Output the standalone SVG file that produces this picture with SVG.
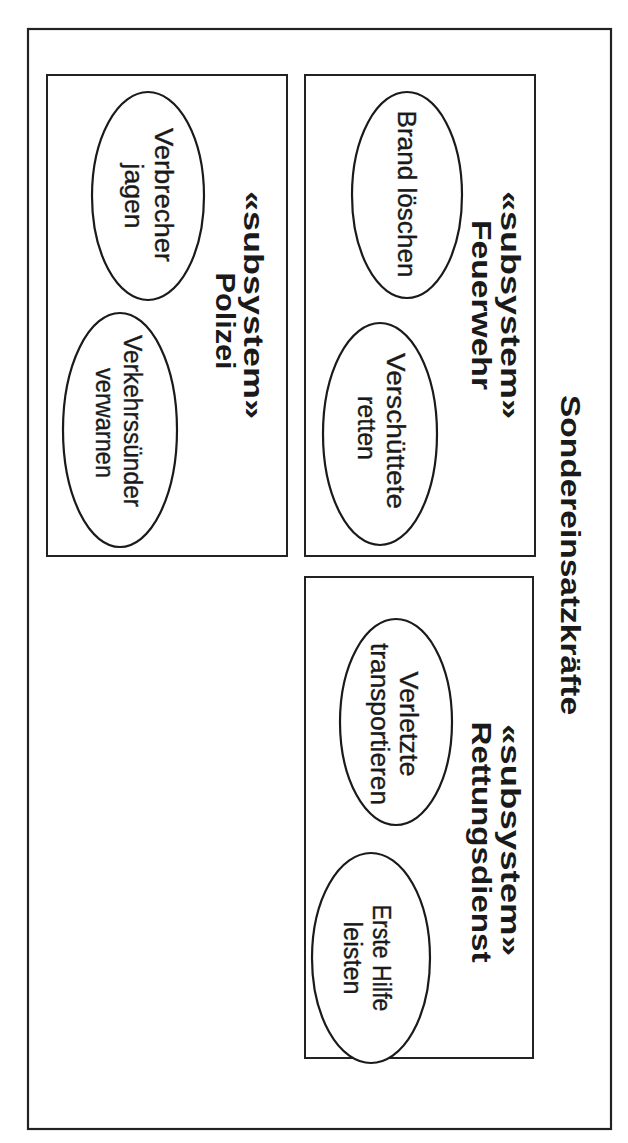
<svg xmlns="http://www.w3.org/2000/svg" width="628" height="1143" viewBox="0 0 628 1143">
<style>
.frame{fill:none;stroke:#222;stroke-width:2.2}
.box{fill:none;stroke:#222;stroke-width:2}
.uc{fill:#fff;stroke:#1a1a1a;stroke-width:2.2}
.t{font-family:"Liberation Sans",Arial,Helvetica,sans-serif;font-size:25px;fill:#1a1a1a;stroke:#1a1a1a;stroke-width:0.35;text-anchor:middle}
.h{font-family:"Liberation Sans",Arial,Helvetica,sans-serif;font-size:28px;font-weight:bold;fill:#1a1a1a;text-anchor:middle}
</style>
<rect width="628" height="1143" fill="#fff"/>
<g id="system">
<rect class="frame" x="28" y="29" width="583" height="1100"/>
<text class="h" transform="translate(561,555) rotate(90)" textLength="320" lengthAdjust="spacingAndGlyphs">Sondereinsatzkräfte</text>
</g>
<g id="feuerwehr">
<rect class="box" x="305" y="75" width="230" height="481"/>
<text class="h" transform="translate(501,305) rotate(90)" textLength="228" lengthAdjust="spacingAndGlyphs">«subsystem»</text>
<text class="h" transform="translate(472,305) rotate(90)" textLength="170" lengthAdjust="spacingAndGlyphs">Feuerwehr</text>
</g>
<g id="polizei">
<rect class="box" x="47" y="75" width="240" height="481"/>
<text class="h" transform="translate(244,305) rotate(90)" textLength="228" lengthAdjust="spacingAndGlyphs">«subsystem»</text>
<text class="h" transform="translate(216,321) rotate(90)" textLength="97" lengthAdjust="spacingAndGlyphs">Polizei</text>
</g>
<g id="rettungsdienst">
<rect class="box" x="305" y="577" width="228" height="481"/>
<text class="h" transform="translate(501,840) rotate(90)" textLength="232" lengthAdjust="spacingAndGlyphs">«subsystem»</text>
<text class="h" transform="translate(472,842) rotate(90)" textLength="241" lengthAdjust="spacingAndGlyphs">Rettungsdienst</text>
</g>
<g id="uc-brand">
<ellipse class="uc" cx="407" cy="195" rx="55" ry="103"/>
<text class="t" transform="translate(398,194) rotate(90)" textLength="167" lengthAdjust="spacingAndGlyphs">Brand löschen</text>
</g>
<g id="uc-verschuettete">
<ellipse class="uc" cx="380" cy="434" rx="57" ry="111"/>
<text class="t" transform="translate(387,431) rotate(90)" textLength="156" lengthAdjust="spacingAndGlyphs">Verschüttete</text>
<text class="t" transform="translate(358,428) rotate(90)" textLength="64" lengthAdjust="spacingAndGlyphs">retten</text>
</g>
<g id="uc-verbrecher">
<ellipse class="uc" cx="148" cy="196" rx="56" ry="104"/>
<text class="t" transform="translate(155,195) rotate(90)" textLength="134" lengthAdjust="spacingAndGlyphs">Verbrecher</text>
<text class="t" transform="translate(125,196) rotate(90)" textLength="65" lengthAdjust="spacingAndGlyphs">jagen</text>
</g>
<g id="uc-verkehrssuender">
<ellipse class="uc" cx="120" cy="430" rx="57" ry="117"/>
<text class="t" transform="translate(124,421) rotate(90)" textLength="172" lengthAdjust="spacingAndGlyphs">Verkehrssünder</text>
<text class="t" transform="translate(96,423) rotate(90)" textLength="110" lengthAdjust="spacingAndGlyphs">verwarnen</text>
</g>
<g id="uc-verletzte">
<ellipse class="uc" cx="396" cy="722" rx="56" ry="103"/>
<text class="t" transform="translate(400,724) rotate(90)" textLength="105" lengthAdjust="spacingAndGlyphs">Verletzte</text>
<text class="t" transform="translate(371,724) rotate(90)" textLength="162" lengthAdjust="spacingAndGlyphs">transportieren</text>
</g>
<g id="uc-erstehilfe">
<ellipse class="uc" cx="371" cy="958" rx="59" ry="105"/>
<text class="t" transform="translate(373,958) rotate(90)" textLength="107" lengthAdjust="spacingAndGlyphs">Erste Hilfe</text>
<text class="t" transform="translate(344,958) rotate(90)" textLength="73" lengthAdjust="spacingAndGlyphs">leisten</text>
</g>
<g id="connectors"/>
</svg>
